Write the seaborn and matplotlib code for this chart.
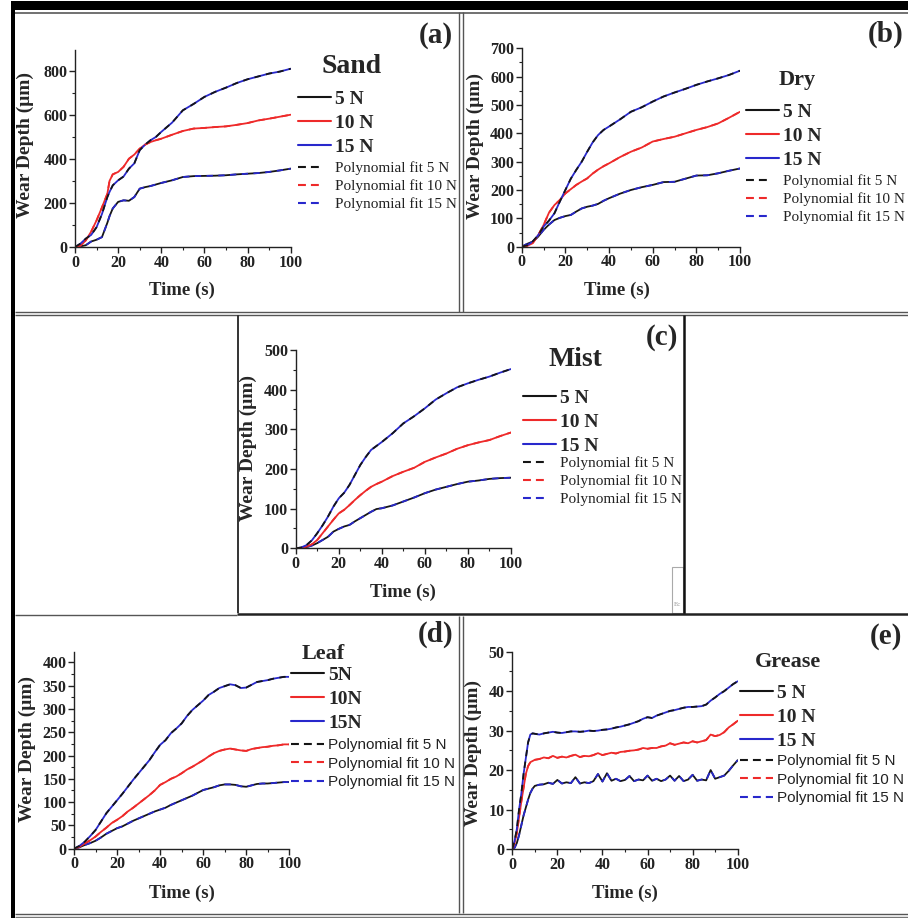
import numpy as np
import pandas as pd
import matplotlib
matplotlib.use("Agg")
import matplotlib.pyplot as plt
import seaborn as sns
from matplotlib.lines import Line2D
from matplotlib.patches import Rectangle
from matplotlib.ticker import MultipleLocator

# ---------------- data ----------------
loads = ["5 N", "10 N", "15 N"]

# (a) Sand
time_a = [0, 2.5, 5, 7.5, 10, 12.5, 15, 16, 17.5, 20, 22.5, 25, 27.5, 30, 32.5, 35, 37.5, 40,
          45, 50, 55, 60, 65, 70, 75, 80, 85, 90, 95, 100]
sand_5 = [0, 3, 8, 25, 33, 45, 110, 140, 175, 205, 212, 210, 227, 265, 272, 277, 284, 291,
          303, 318, 322, 323, 324, 326, 330, 333, 336, 341, 348, 356]
sand_10 = [0, 5, 30, 70, 121, 180, 242, 300, 330, 341, 364, 401, 420, 447, 465, 477, 485, 492,
           510, 527, 538, 541, 545, 548, 555, 563, 575, 583, 592, 601]
sand_15 = [0, 15, 38, 55, 90, 150, 227, 250, 280, 303, 320, 356, 380, 440, 465, 485, 500, 523,
           565, 621, 650, 682, 705, 724, 745, 762, 775, 788, 797, 810]

# (b) Dry
time_b = [0, 2.5, 5, 7.5, 10, 12.5, 15, 17.5, 20, 22.5, 25, 27.5, 30, 32.5, 35, 37.5, 40,
          45, 50, 55, 60, 65, 70, 75, 80, 85, 90, 95, 100]
dry_5 = [0, 10, 18, 35, 59, 78, 94, 102, 108, 112, 124, 135, 141, 145, 151, 162, 171,
         187, 200, 210, 218, 228, 229, 240, 251, 252, 259, 268, 276]
dry_10 = [0, 3, 12, 40, 76, 120, 147, 165, 188, 203, 218, 230, 241, 258, 272, 284, 294,
          316, 335, 350, 371, 380, 388, 400, 412, 422, 435, 455, 476]
dry_15 = [0, 5, 18, 40, 71, 92, 118, 160, 200, 240, 271, 300, 335, 368, 394, 412, 424,
          449, 476, 492, 512, 530, 544, 557, 571, 583, 594, 606, 621]

# (c) Mist
time_c = time_b
mist_5 = [0, 1, 3, 7, 13, 21, 29, 42, 49, 55, 59, 68, 76, 84, 92, 99, 101,
          108, 118, 128, 139, 148, 155, 162, 168, 171, 175, 177, 178]
mist_10 = [0, 1, 4, 10, 21, 38, 55, 72, 88, 97, 109, 122, 134, 145, 155, 162, 168,
           182, 193, 203, 218, 229, 239, 251, 260, 267, 273, 283, 292]
mist_15 = [0, 2, 8, 20, 38, 58, 80, 105, 126, 140, 160, 185, 210, 230, 248, 258, 268,
           290, 315, 333, 353, 375, 391, 406, 416, 425, 433, 443, 452]

# (d) Leaf
time_d = [0, 2.5, 5, 7.5, 10, 12.5, 15, 17.5, 20, 22.5, 25, 27.5, 30, 32.5, 35, 37.5, 40,
          42.5, 45, 47.5, 50, 52.5, 55, 57.5, 60, 62.5, 65, 67.5, 70, 72.5, 75, 77.5, 80,
          82.5, 85, 87.5, 90, 92.5, 95, 97.5, 100]
leaf_5 = [0, 3, 8, 12, 17, 24, 32, 38, 44, 48, 54, 60, 65, 70, 75, 80, 84,
          88, 94, 99, 104, 109, 114, 120, 126, 129, 132, 136, 138, 138, 137, 134, 133,
          136, 139, 140, 140, 141, 142, 143, 143]
leaf_10 = [0, 4, 11, 18, 26, 36, 45, 55, 62, 70, 80, 88, 97, 106, 115, 125, 137,
           143, 150, 155, 162, 170, 176, 183, 190, 198, 205, 210, 213, 215, 213, 211, 210,
           214, 216, 218, 219, 221, 222, 224, 224]
leaf_15 = [0, 6, 15, 27, 40, 58, 76, 90, 104, 118, 133, 148, 162, 176, 190, 207, 223,
           233, 248, 258, 269, 285, 298, 308, 318, 330, 337, 345, 349, 353, 351, 345, 346,
           352, 358, 360, 362, 365, 367, 369, 369]

# (e) Grease
time_e = [0, 1, 2, 3, 4, 5, 6, 7, 8, 9, 10, 12, 14, 16, 18, 20, 22, 24, 26, 28, 30, 32, 34,
          36, 38, 40, 42, 44, 46, 48, 50, 52, 54, 56, 58, 60, 62, 64, 66, 68, 70, 72, 74,
          76, 78, 80, 82, 84, 86, 88, 90, 92, 94, 96, 98, 100]
grease_5 = [0, 0.3, 1.5, 3.5, 6, 8.5, 10.5, 12.5, 14.2, 15.3, 16.0, 16.3, 16.4, 16.8, 16.5,
            17.5, 16.6, 16.9, 16.7, 18.2, 16.6, 16.9, 16.7, 17.2, 19.0, 17.1, 19.2, 17.3,
            17.8, 17.2, 17.5, 18.5, 17.2, 17.6, 17.4, 18.6, 17.3, 17.8, 17.2, 17.6, 18.6,
            17.3, 18.5, 17.2, 17.6, 18.8, 17.3, 17.6, 17.4, 20.0, 17.8, 18.2, 18.6, 19.8,
            21.2, 22.5]
grease_10 = [0, 1.5, 4, 8, 12, 15.5, 19, 21, 22, 22.3, 22.6, 22.8, 23.2, 23.0, 23.6, 23.1,
             23.4, 23.2, 23.6, 23.9, 23.3, 23.6, 23.5, 23.8, 24.3, 23.8, 24.1, 24.4, 24.2,
             24.6, 24.7, 24.9, 25.0, 25.2, 25.6, 25.4, 25.6, 25.6, 26.0, 26.2, 26.8, 26.4,
             26.7, 27.0, 26.8, 27.3, 27.0, 27.3, 27.6, 29.0, 28.6, 28.9, 29.6, 30.8, 31.6,
             32.5]
grease_15 = [0, 2, 5, 10, 14, 19, 23, 27, 29, 29.3, 29.2, 29.0, 29.3, 29.5, 29.7, 29.5, 29.4,
             29.6, 29.8, 29.8, 29.7, 29.8, 30.0, 29.9, 30.0, 30.2, 30.3, 30.5, 30.8, 31.0,
             31.3, 31.6, 32.0, 32.4, 33.0, 33.4, 33.2, 33.8, 34.2, 34.6, 35.0, 35.2, 35.5,
             35.8, 36.0, 36.0, 36.1, 36.2, 36.6, 37.6, 38.4, 39.3, 40.0, 40.9, 41.8, 42.5]

# ---------------- style ----------------
sns.set_style("ticks")
plt.rcParams["font.family"] = ["Liberation Serif", "DejaVu Serif"]
plt.rcParams["font.weight"] = "bold"
plt.rcParams["axes.linewidth"] = 1.0
plt.rcParams["axes.edgecolor"] = "#222222"

BLACK = "#151515"
RED = "#ee2a2a"
BLUE = "#2828cc"

W, H = 908, 918
fig = plt.figure(figsize=(W / 100, H / 100), dpi=100)
fig.patch.set_facecolor("white")


def fx(px):
    return px / W


def fy(py):
    return 1 - py / H


def hline(y, x0, x1, color="#555555", lw=1.0):
    fig.add_artist(Line2D([fx(x0), fx(x1)], [fy(y), fy(y)], transform=fig.transFigure,
                          color=color, lw=lw, solid_capstyle="butt"))


def vline(x, y0, y1, color="#555555", lw=1.0):
    fig.add_artist(Line2D([fx(x), fx(x)], [fy(y0), fy(y1)], transform=fig.transFigure,
                          color=color, lw=lw, solid_capstyle="butt"))


# frame decorations
fig.add_artist(Rectangle((fx(11), fy(10)), (W - 11) / W, 9 / H, transform=fig.transFigure,
                         color="black", lw=0))
fig.add_artist(Rectangle((fx(11), fy(918)), 4 / W, 916 / H, transform=fig.transFigure,
                         color="black", lw=0))
hline(12.5, 15, 908, "#666666", 1.3)
vline(459, 12, 312, "#555555", 1.0)
vline(462.5, 12, 312, "#555555", 1.0)
hline(311.5, 15, 908, "#555555", 1.0)
hline(314.5, 15, 908, "#555555", 1.0)
vline(237.5, 315, 613, "#333333", 1.4)
vline(684, 315, 614, "#111111", 1.8)
hline(613.5, 237, 908, "#222222", 1.8)
hline(614.5, 15, 237, "#555555", 1.0)
vline(459, 616, 913, "#555555", 1.0)
vline(462.5, 616, 913, "#555555", 1.0)
hline(913.5, 15, 908, "#555555", 1.0)
hline(916.5, 15, 908, "#777777", 1.0)
fig.add_artist(Rectangle((fx(672), fy(613)), 11 / W, 46 / H, transform=fig.transFigure,
                         facecolor="white", edgecolor="#aaaaaa", lw=0.8))
fig.text(fx(678), fy(605), "Ec", fontsize=5, color="#999999", fontweight="normal",
         ha="center", va="center")

panels = [
    dict(rect=(75, 50, 290.7, 247), t=time_a, ys=(sand_5, sand_10, sand_15), ylim=895, ymaj=200,
         title="Sand", tpos=(352, 73), tsize=20, tag="(a)", tagpos=(436, 43),
         legx=298, legb=90, legp=161.5, longdash=False, polyfam="Liberation Serif", labs=loads,
         xlab=(182, 290), ylab=(25, 145)),
    dict(rect=(521.7, 48.3, 740, 246.7), t=time_b, ys=(dry_5, dry_10, dry_15), ylim=700, ymaj=100,
         title="Dry", tpos=(797, 85), tsize=16, tag="(b)", tagpos=(886, 42),
         legx=746, legb=103, legp=174.5, longdash=False, polyfam="Liberation Serif", labs=loads,
         xlab=(617, 290), ylab=(475, 146)),
    dict(rect=(295.7, 350, 511, 548.3), t=time_c, ys=(mist_5, mist_10, mist_15), ylim=500, ymaj=100,
         title="Mist", tpos=(575, 366), tsize=20, tag="(c)", tagpos=(662, 345),
         legx=523, legb=389, legp=456.5, longdash=False, polyfam="Liberation Serif", labs=loads,
         xlab=(403, 592), ylab=(248, 448)),
    dict(rect=(74, 651.7, 289.3, 848.7), t=time_d, ys=(leaf_5, leaf_10, leaf_15), ylim=423, ymaj=50,
         title="Leaf", tpos=(323, 659), tsize=16, tag="(d)", tagpos=(436, 642),
         legx=291, legb=666, legp=738.5, longdash=True, polyfam="Liberation Sans",
         labs=["5N", "10N", "15N"], xlab=(182, 893), ylab=(27, 749)),
    dict(rect=(512.3, 651.7, 737.7, 849), t=time_e, ys=(grease_5, grease_10, grease_15), ylim=50,
         ymaj=10, title="Grease", tpos=(788, 667), tsize=16, tag="(e)", tagpos=(886, 644),
         legx=740, legb=684, legp=754.5, longdash=True, polyfam="Liberation Sans", labs=loads,
         xlab=(625, 893), ylab=(473, 753)),
]

solid_colors = [BLACK, RED, BLUE]
dash_colors = [BLUE, RED, BLACK]

for p in panels:
    x0, yt, x1, yb = p["rect"]
    ax = fig.add_axes([fx(x0), fy(yb), (x1 - x0) / W, (yb - yt) / H])
    frames = []
    for lab, vals in zip(loads, p["ys"]):
        frames.append(pd.DataFrame({"time": p["t"], "depth": vals, "load": lab}))
    df = pd.concat(frames, ignore_index=True)
    for lab, c in zip(loads, solid_colors):
        sub = df[df["load"] == lab]
        sns.lineplot(data=sub, x="time", y="depth", ax=ax, color=c, lw=1.3,
                     estimator=None, sort=False, legend=False)
    for lab, c in zip(loads, dash_colors):
        sub = df[df["load"] == lab]
        sns.lineplot(data=sub, x="time", y="depth", ax=ax, color=c, lw=1.3,
                     linestyle=(0, (3.5, 3.0)), estimator=None, sort=False, legend=False)

    ax.set_xlim(0, 100)
    ax.set_ylim(0, p["ylim"])
    ax.xaxis.set_major_locator(MultipleLocator(20))
    ax.xaxis.set_minor_locator(MultipleLocator(10))
    ax.yaxis.set_major_locator(MultipleLocator(p["ymaj"]))
    ax.yaxis.set_minor_locator(MultipleLocator(p["ymaj"] / 2))
    ax.tick_params(which="major", direction="out", length=4, width=1.0, labelsize=11.5,
                   pad=1.5, colors="#222222")
    ax.tick_params(which="minor", direction="out", length=2.2, width=0.8, colors="#222222")
    sns.despine(ax=ax)
    ax.set_facecolor("none")

    ax.set_xlabel("Time (s)", fontsize=13.5, fontweight="bold")
    ax.set_ylabel("Wear Depth (\u03bcm)", fontsize=14, fontweight="bold")
    lx, ly = p["xlab"]
    ax.xaxis.set_label_coords((lx - x0) / (x1 - x0), (yb - ly) / (yb - yt))
    ax.xaxis.label.set_va("center")
    lx, ly = p["ylab"]
    ax.yaxis.set_label_coords((lx - x0) / (x1 - x0), (yb - ly) / (yb - yt))
    ax.yaxis.label.set_va("center")
    ax.yaxis.label.set_ha("center")

    # legend part 1: measured series
    h1 = [Line2D([], [], color=c, lw=1.5) for c in solid_colors]
    leg1 = ax.legend(h1, list(p["labs"]), loc="upper left",
                     bbox_to_anchor=(fx(p["legx"]), fy(p["legb"])),
                     bbox_transform=fig.transFigure, frameon=False, borderpad=0,
                     borderaxespad=0, handlelength=1.7, handletextpad=0.2,
                     labelspacing=0.34,
                     prop={"family": "Liberation Serif", "weight": "bold", "size": 14})
    ax.add_artist(leg1)
    # legend part 2: polynomial fits
    h2 = [Line2D([], [], color=c, lw=1.5, ls=(0, (3.8, 2.4))) for c in solid_colors]
    if p["longdash"]:
        hl, hp = 2.15, 0.26
    else:
        hl, hp = 1.35, 1.06
    leg2 = ax.legend(h2, ["Polynomial fit " + s for s in loads], loc="upper left",
                     bbox_to_anchor=(fx(p["legx"]), fy(p["legp"])),
                     bbox_transform=fig.transFigure, frameon=False, borderpad=0,
                     borderaxespad=0, handlelength=hl, handletextpad=hp,
                     labelspacing=0.28,
                     prop={"family": p["polyfam"], "weight": "normal", "size": 11})
    for t in leg2.get_texts():
        t.set_color("#222222")

    fig.text(fx(p["tpos"][0]), fy(p["tpos"][1]), p["title"], fontsize=p["tsize"],
             fontweight="bold", ha="center", va="baseline")
    fig.text(fx(p["tagpos"][0]), fy(p["tagpos"][1]), p["tag"], fontsize=21,
             fontweight="bold", ha="center", va="baseline")

fig.savefig("out.png", dpi=100, facecolor="white")
